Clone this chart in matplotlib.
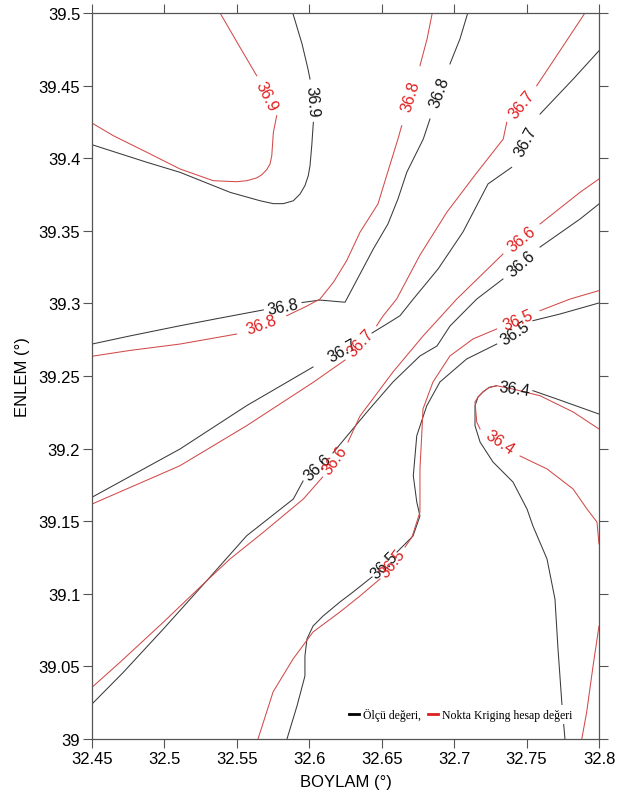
import numpy as np
import matplotlib
matplotlib.use("Agg")
import matplotlib.pyplot as plt
from matplotlib.lines import Line2D

nan = np.nan

# contour traces, lon / lat, a nan marks where the contour label sits
# measured values (black)
olcu_369_lon = [32.5886, 32.5950, 32.5991, 32.6005, nan, 32.6028, 32.6017, 32.6005, 32.5993,
                32.5970, 32.5936, 32.5890, 32.5821, 32.5752, 32.5660, 32.5453, 32.5107,
                32.4878, 32.4500]
olcu_369_lat = [39.5000, 39.4787, 39.4614, 39.4545, nan, 39.4247, 39.4086, 39.3948, 39.3879,
                39.3811, 39.3753, 39.3707, 39.3687, 39.3687, 39.3707, 39.3765, 39.3903,
                39.3972, 39.4093]

olcu_368_lon = [32.7094, 32.7040, 32.6971, nan, 32.6833, 32.6787, 32.6673, 32.6612, 32.6543,
                32.6442, 32.6350, 32.6247, 32.6074, 32.5950, nan, 32.5683, 32.5384, 32.5107,
                32.4762, 32.4500]
olcu_368_lat = [39.5000, 39.4821, 39.4649, nan, 39.4270, 39.4132, 39.3903, 39.3719, 39.3547,
                39.3375, 39.3202, 39.3008, 39.3023, 39.3006, nan, 39.2955, 39.2899, 39.2846,
                39.2776, 39.2720]

olcu_367_lon = [32.8000, 32.7822, 32.7593, nan, 32.7397, 32.7234, 32.7061, 32.6889, 32.6718,
                32.6626, 32.6557, 32.6433, nan, 32.6026, 32.5568, 32.5107, 32.4500]
olcu_367_lat = [39.4740, 39.4545, 39.4304, nan, 39.3937, 39.3823, 39.3492, 39.3237, 39.3030,
                39.2915, 39.2872, 39.2796, nan, 39.2562, 39.2296, 39.1997, 39.1665]

olcu_366_lon = [32.8000, 32.7869, 32.7593, nan, 32.7337, 32.7156, 32.6971, 32.6882, 32.6764,
                32.6578, 32.6398, 32.6163, nan, 32.5957, 32.5890, 32.5568, 32.5292, 32.4992,
                32.4716, 32.4500]
olcu_366_lat = [39.3685, 39.3581, 39.3388, nan, 39.3168, 39.3030, 39.2844, 39.2707, 39.2638,
                39.2459, 39.2252, 39.1970, nan, 39.1777, 39.1653, 39.1400, 39.1090, 39.0757,
                39.0459, 39.0241]

olcu_365_lon = [32.8000, 32.7731, 32.7544, nan, 32.7294, 32.7086, 32.6902, 32.6811, 32.6742,
                32.6718, 32.6742, 32.6764, 32.6716, 32.6606, nan, 32.6433, 32.6302, 32.6212,
                32.6095, 32.6026, 32.5984, 32.5970, 32.5970, 32.5915, 32.5846]
olcu_365_lat = [39.3003, 39.2927, 39.2881, nan, 39.2720, 39.2617, 39.2459, 39.2295, 39.2089,
                39.1813, 39.1632, 39.1536, 39.1398, 39.1288, nan, 39.1116, 39.1012, 39.0944,
                39.0847, 39.0778, 39.0689, 39.0572, 39.0434, 39.0227, 39.0000]

olcu_364_lon = [32.8000, 32.7708, 32.7544, nan, 32.7294, 32.7241, 32.7199, 32.7165, 32.7144,
                32.7144, 32.7179, 32.7268, 32.7406, 32.7503, 32.7544, 32.7641, 32.7696,
                32.7717, 32.7745, 32.7765]
olcu_364_lat = [39.2238, 39.2342, 39.2399, nan, 39.2433, 39.2421, 39.2390, 39.2355, 39.2295,
                39.2158, 39.2045, 39.1908, 39.1770, 39.1584, 39.1467, 39.1240, 39.0964,
                39.0620, 39.0227, 39.0000]

# point kriging estimates (red)
kriging_369_lon = [32.5384, 32.5508, 32.5637, nan, 32.5775, 32.5752, 32.5741, 32.5729, 32.5706,
                   32.5672, 32.5637, 32.5568, 32.5499, 32.5337, 32.5107, 32.4878, 32.4647,
                   32.4500]
kriging_369_lat = [39.5000, 39.4787, 39.4568, nan, 39.4293, 39.4178, 39.4017, 39.3960, 39.3921,
                   39.3886, 39.3864, 39.3845, 39.3838, 39.3845, 39.3926, 39.4041, 39.4155,
                   39.4242]

kriging_368_lon = [32.6849, 32.6813, 32.6764, nan, 32.6638, 32.6612, 32.6534, 32.6474, 32.6350,
                   32.6258, 32.6166, 32.6074, 32.5970, 32.5844, nan, 32.5499, 32.5107, 32.4762,
                   32.4500]
kriging_368_lat = [39.5000, 39.4821, 39.4637, nan, 39.4224, 39.4132, 39.3880, 39.3685, 39.3490,
                   39.3294, 39.3145, 39.3030, 39.2975, 39.2915, nan, 39.2789, 39.2720, 39.2676,
                   39.2636]

kriging_367_lon = [32.7903, 32.7708, 32.7570, nan, 32.7363, 32.7339, 32.7144, 32.6949, 32.6764,
                   32.6603, 32.6509, 32.6465, nan, 32.6247, 32.6028, 32.5568, 32.5107, 32.4500]
kriging_367_lat = [39.5000, 39.4706, 39.4499, nan, 39.4247, 39.4132, 39.3884, 39.3627, 39.3333,
                   39.3030, 39.2913, 39.2846, nan, 39.2610, 39.2457, 39.2158, 39.1882, 39.1618]

kriging_366_lon = [32.8000, 32.7869, 32.7593, nan, 32.7337, 32.7018, 32.6785, 32.6578, 32.6350,
                   32.6267, nan, 32.6092, 32.5959, 32.5683, 32.5453, 32.5292, 32.4992, 32.4693,
                   32.4500]
kriging_366_lat = [39.3857, 39.3765, 39.3547, nan, 39.3340, 39.3030, 39.2775, 39.2528, 39.2224,
                   39.2045, nan, 39.1804, 39.1653, 39.1424, 39.1240, 39.1090, 39.0804, 39.0528,
                   39.0356]

kriging_365_lon = [32.8000, 32.7800, 32.7593, nan, 32.7294, 32.7130, 32.6971, 32.6854, 32.6785,
                   32.6776, 32.6764, 32.6764, 32.6709, 32.6661, nan, 32.6488, 32.6350, 32.6212,
                   32.6026, 32.5888, 32.5750, 32.5646]
kriging_365_lat = [39.3088, 39.3030, 39.2950, nan, 39.2824, 39.2755, 39.2638, 39.2459, 39.2273,
                   39.2089, 39.1860, 39.1563, 39.1391, 39.1322, nan, 39.1102, 39.0985, 39.0875,
                   39.0737, 39.0551, 39.0324, 39.0000]

kriging_364_lon = [32.8000, 32.7822, 32.7593, 32.7406, 32.7294, 32.7241, 32.7199, 32.7165,
                   32.7144, 32.7156, 32.7179, nan, 32.7455, 32.7641, 32.7821, 32.7917, 32.7986,
                   32.8000]
kriging_364_lat = [39.2135, 39.2252, 39.2364, 39.2410, 39.2433, 39.2421, 39.2390, 39.2355,
                   39.2321, 39.2183, 39.2135, nan, 39.1949, 39.1860, 39.1722, 39.1584, 39.1494,
                   39.1343]

kriging_corner_lon = [32.8000, 32.7959, 32.7915, 32.7881]
kriging_corner_lat = [39.0778, 39.0503, 39.0186, 39.0000]

x_ticks = [32.45, 32.5, 32.55, 32.6, 32.65, 32.7, 32.75, 32.8]
x_ticklabels = ['32.45', '32.5', '32.55', '32.6', '32.65', '32.7', '32.75', '32.8']
y_ticks = [39.0, 39.05, 39.1, 39.15, 39.2, 39.25, 39.3, 39.35, 39.4, 39.45, 39.5]
y_ticklabels = ['39', '39.05', '39.1', '39.15', '39.2', '39.25', '39.3', '39.35', '39.4',
                '39.45', '39.5']

BLACK_LINE = '#3a3a3a'
BLACK_TEXT = '#111111'
RED_LINE = '#d24a4a'
RED_TEXT = '#e01e1e'


def draw_contour(ax, lon, lat, value, line_color, text_color):
    """Draw one contour trace and put its value in every nan gap."""
    lon = np.asarray(lon, dtype=float)
    lat = np.asarray(lat, dtype=float)
    ax.plot(lon, lat, color=line_color, lw=0.75, solid_joinstyle='round')
    if value is None:
        return
    for i in np.where(np.isnan(lon))[0]:
        p0 = ax.transData.transform((lon[i - 1], lat[i - 1]))
        p1 = ax.transData.transform((lon[i + 1], lat[i + 1]))
        dx, dy = p1 - p0
        ang = np.degrees(np.arctan2(dy, dx))
        if ang > 90:
            ang -= 180
        elif ang <= -90:
            ang += 180
        mid = ax.transData.inverted().transform((p0 + p1) / 2)
        ax.text(mid[0], mid[1], f"{value:.1f}", color=text_color, fontsize=11.5,
                rotation=ang, rotation_mode='anchor', ha='center', va='center')


def make_plot():
    plt.rcParams['font.family'] = ['Liberation Sans', 'DejaVu Sans']
    fig = plt.figure(figsize=(6.19, 8.04), dpi=100)
    ax = fig.add_axes([92 / 619, 64 / 804, 507 / 619, 726 / 804])
    ax.set_xlim(32.45, 32.8)
    ax.set_ylim(39.0, 39.5)

    measured = [(olcu_369_lon, olcu_369_lat, 36.9), (olcu_368_lon, olcu_368_lat, 36.8),
                (olcu_367_lon, olcu_367_lat, 36.7), (olcu_366_lon, olcu_366_lat, 36.6),
                (olcu_365_lon, olcu_365_lat, 36.5), (olcu_364_lon, olcu_364_lat, 36.4)]
    kriged = [(kriging_369_lon, kriging_369_lat, 36.9), (kriging_368_lon, kriging_368_lat, 36.8),
              (kriging_367_lon, kriging_367_lat, 36.7), (kriging_366_lon, kriging_366_lat, 36.6),
              (kriging_365_lon, kriging_365_lat, 36.5), (kriging_364_lon, kriging_364_lat, 36.4),
              (kriging_corner_lon, kriging_corner_lat, None)]

    for lon, lat, v in measured:
        draw_contour(ax, lon, lat, v, BLACK_LINE, BLACK_TEXT)
    for lon, lat, v in kriged:
        draw_contour(ax, lon, lat, v, RED_LINE, RED_TEXT)

    ax.set_xticks(x_ticks)
    ax.set_xticklabels(x_ticklabels)
    ax.set_yticks(y_ticks)
    ax.set_yticklabels(y_ticklabels)
    ax.tick_params(direction='out', length=6.5, width=0.8, color='#555555',
                   top=True, right=True, labelsize=12, pad=2)
    for sp in ax.spines.values():
        sp.set_color('#555555')
        sp.set_linewidth(0.9)

    ax.set_xlabel('BOYLAM (°)', fontsize=12, labelpad=6)
    ax.set_ylabel('ENLEM (°)', fontsize=12, labelpad=6)

    handles = [Line2D([], [], color='black', lw=2),
               Line2D([], [], color='#e01e1e', lw=2)]
    leg = ax.legend(handles, ['Ölçü değeri,', 'Nokta Kriging hesap değeri'], ncol=2,
                    loc='lower right', bbox_to_anchor=(0.965, 0.012),
                    prop={'family': 'Liberation Serif', 'size': 8.5},
                    handlelength=0.9, handletextpad=0.3, columnspacing=0.6,
                    borderpad=0.25, frameon=True, fancybox=False)
    leg.get_frame().set_facecolor('white')
    leg.get_frame().set_edgecolor('none')
    leg.get_frame().set_alpha(1)

    return fig


if __name__ == '__main__':
    fig = make_plot()
    fig.savefig('out.png', dpi=100)
